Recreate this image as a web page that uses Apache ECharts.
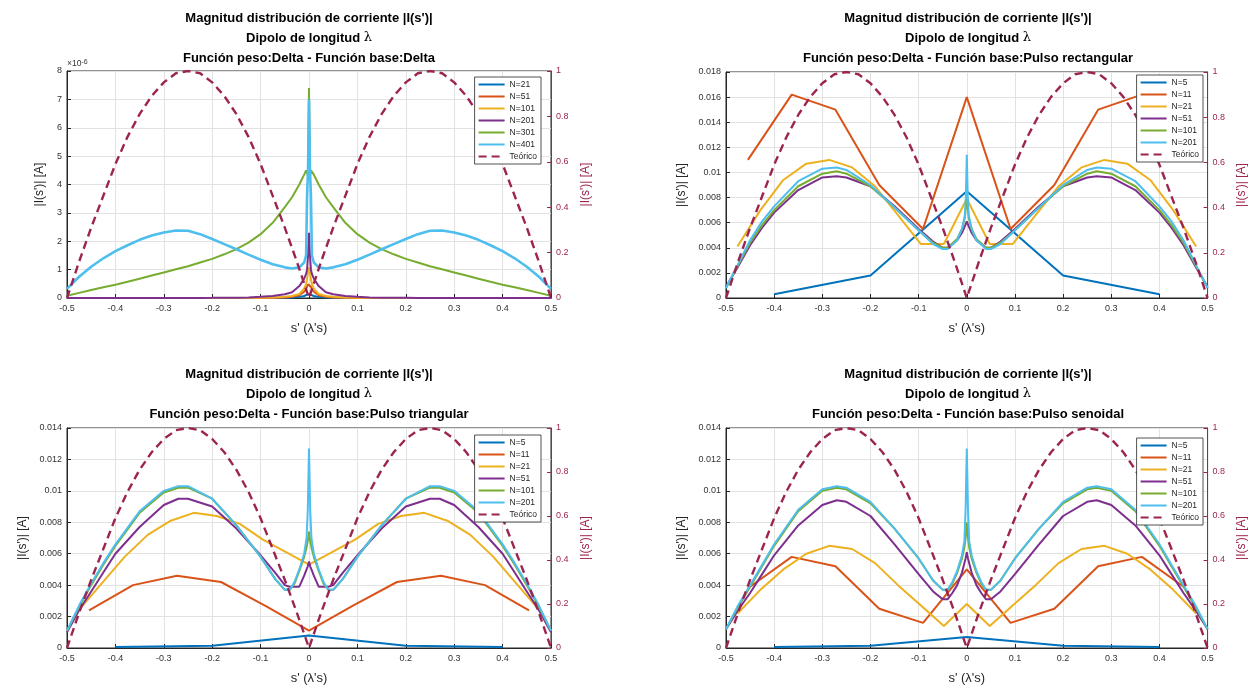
<!DOCTYPE html>
<html>
<head>
<meta charset="utf-8">
<script src="https://cdn.jsdelivr.net/npm/echarts@6/dist/echarts.min.js"></script>
<style>
  html, body { margin: 0; padding: 0; background: #fff; }
  #wrap { position: relative; width: 1256px; height: 690px; overflow: hidden; background: #fff; }
  .pane { position: absolute; width: 628px; height: 345px; }
</style>
</head>
<body>
<div id="wrap">
  <div class="pane" id="p1" style="left:0;top:0"></div>
  <div class="pane" id="p2" style="left:628px;top:0"></div>
  <div class="pane" id="p3" style="left:0;top:345px"></div>
  <div class="pane" id="p4" style="left:628px;top:345px"></div>
</div>
<script>
// ---- Theoretical distribution (right axis, normalised) ----
const sTeo = [-0.5,-0.475,-0.45,-0.425,-0.4,-0.375,-0.35,-0.325,-0.3,-0.275,-0.25,-0.225,-0.2,-0.175,-0.15,-0.125,-0.1,-0.075,-0.05,-0.025,0,
              0.025,0.05,0.075,0.1,0.125,0.15,0.175,0.2,0.225,0.25,0.275,0.3,0.325,0.35,0.375,0.4,0.425,0.45,0.475,0.5];
const iTeo = [0,0.16,0.31,0.45,0.59,0.71,0.81,0.89,0.95,0.99,1.00,0.99,0.95,0.89,0.81,0.71,0.59,0.45,0.31,0.16,0,
              0.16,0.31,0.45,0.59,0.71,0.81,0.89,0.95,0.99,1.00,0.99,0.95,0.89,0.81,0.71,0.59,0.45,0.31,0.16,0];

// ---- Delta / Delta (values in units of 1e-6 A) ----
const s1 = [-0.5,-0.475,-0.45,-0.425,-0.4,-0.375,-0.35,-0.325,-0.3,-0.275,-0.25,-0.225,-0.2,-0.175,-0.15,-0.125,-0.1,-0.075,-0.05,-0.035,-0.02,-0.01,-0.006,-0.004,-0.002,0,
            0.002,0.004,0.006,0.01,0.02,0.035,0.05,0.075,0.1,0.125,0.15,0.175,0.2,0.225,0.25,0.275,0.3,0.325,0.35,0.375,0.4,0.425,0.45,0.475,0.5];
const dd21  = [0,0,0,0,0,0,0,0,0,0,0,0,0,0,0,0,0,0,0.01,0.02,0.04,0.07,0.1,0.12,0.13,0.15,
               0.13,0.12,0.1,0.07,0.04,0.02,0.01,0,0,0,0,0,0,0,0,0,0,0,0,0,0,0,0,0,0];
const dd51  = [0,0,0,0,0,0,0,0,0,0,0,0,0,0,0,0,0,0.01,0.02,0.04,0.1,0.22,0.32,0.4,0.48,0.55,
               0.48,0.4,0.32,0.22,0.1,0.04,0.02,0.01,0,0,0,0,0,0,0,0,0,0,0,0,0,0,0,0,0];
const dd101 = [0,0,0,0,0,0,0,0,0,0,0,0,0,0,0,0,0.01,0.02,0.04,0.07,0.14,0.33,0.5,0.65,0.9,1.08,
               0.9,0.65,0.5,0.33,0.14,0.07,0.04,0.02,0.01,0,0,0,0,0,0,0,0,0,0,0,0,0,0,0,0];
const dd201 = [0,0,0,0,0,0,0,0,0,0,0.002,0.003,0.005,0.008,0.012,0.02,0.04,0.07,0.13,0.2,0.42,0.68,0.85,1.0,1.5,2.3,
               1.5,1.0,0.85,0.68,0.42,0.2,0.13,0.07,0.04,0.02,0.012,0.008,0.005,0.003,0.002,0,0,0,0,0,0,0,0,0,0];
const dd301 = [0.08,0.18,0.28,0.38,0.47,0.57,0.68,0.79,0.9,1.01,1.12,1.25,1.38,1.54,1.72,1.95,2.25,2.65,3.2,3.55,4.0,4.35,4.5,4.5,4.3,7.4,
               4.3,4.5,4.5,4.35,4.0,3.55,3.2,2.65,2.25,1.95,1.72,1.54,1.38,1.25,1.12,1.01,0.9,0.79,0.68,0.57,0.47,0.38,0.28,0.18,0.08];
const dd401 = [0.32,0.75,1.1,1.4,1.65,1.86,2.05,2.2,2.31,2.38,2.37,2.25,2.08,1.9,1.72,1.53,1.35,1.19,1.08,1.04,1.08,1.25,1.5,3.6,4.5,7.0,
               4.5,3.6,1.5,1.25,1.08,1.04,1.08,1.19,1.35,1.53,1.72,1.9,2.08,2.25,2.37,2.38,2.31,2.2,2.05,1.86,1.65,1.4,1.1,0.75,0.32];

// ---- Delta / rectangular pulse (A) ----
const sN5  = [-0.4,-0.2,0,0.2,0.4];
const sN11 = [-0.4545,-0.3636,-0.2727,-0.1818,-0.0909,0,0.0909,0.1818,0.2727,0.3636,0.4545];
const sN21 = [-0.4762,-0.4286,-0.381,-0.3333,-0.2857,-0.2381,-0.1905,-0.1429,-0.0952,-0.0476,0,
              0.0476,0.0952,0.1429,0.1905,0.2381,0.2857,0.3333,0.381,0.4286,0.4762];
const rp5  = [0.0003,0.0018,0.0085,0.0018,0.0003];
const rp11 = [0.0110,0.0162,0.0150,0.0090,0.0055,0.0160,0.0055,0.0090,0.0150,0.0162,0.0110];
const rp21 = [0.0041,0.0070,0.0094,0.0107,0.0110,0.0104,0.0089,0.0066,0.0043,0.0043,0.0079,
              0.0043,0.0043,0.0066,0.0089,0.0104,0.0110,0.0107,0.0094,0.0070,0.0041];
const s2 = [-0.5,-0.475,-0.45,-0.425,-0.4,-0.35,-0.3,-0.27,-0.25,-0.2,-0.15,-0.1,-0.07,-0.05,-0.04,-0.02,-0.01,-0.004,-0.002,0,
            0.002,0.004,0.01,0.02,0.04,0.05,0.07,0.1,0.15,0.2,0.25,0.27,0.3,0.35,0.4,0.425,0.45,0.475,0.5];
const rp51  = [0.0009,0.0025,0.0042,0.0056,0.0068,0.0086,0.0096,0.0097,0.0096,0.0089,0.0073,0.0055,0.0045,0.0040,0.0040,0.0046,0.0052,0.0057,0.0059,0.0061,
               0.0059,0.0057,0.0052,0.0046,0.0040,0.0040,0.0045,0.0055,0.0073,0.0089,0.0096,0.0097,0.0096,0.0086,0.0068,0.0056,0.0042,0.0025,0.0009];
const rp101 = [0.0008,0.0026,0.0044,0.0058,0.0070,0.0089,0.0099,0.0101,0.0099,0.0089,0.0072,0.0054,0.0044,0.0040,0.0040,0.0047,0.0055,0.0064,0.0072,0.0088,
               0.0072,0.0064,0.0055,0.0047,0.0040,0.0040,0.0044,0.0054,0.0072,0.0089,0.0099,0.0101,0.0099,0.0089,0.0070,0.0058,0.0044,0.0026,0.0008];
const rp201 = [0.0008,0.0027,0.0046,0.0061,0.0073,0.0093,0.0103,0.0104,0.0102,0.0090,0.0072,0.0054,0.0043,0.0039,0.0039,0.0046,0.0055,0.0066,0.0080,0.0114,
               0.0080,0.0066,0.0055,0.0046,0.0039,0.0039,0.0043,0.0054,0.0072,0.0090,0.0102,0.0104,0.0103,0.0093,0.0073,0.0061,0.0046,0.0027,0.0008];

// ---- Delta / triangular pulse (A) ----
const tp5  = [0.00006,0.00015,0.00079,0.00015,0.00006];
const tp11 = [0.0024,0.0040,0.0046,0.0042,0.0027,0.0011,0.0027,0.0042,0.0046,0.0040,0.0024];
const tp21 = [0.0024,0.0041,0.0058,0.0072,0.0081,0.0086,0.0084,0.0079,0.0069,0.0061,0.0053,
              0.0061,0.0069,0.0079,0.0084,0.0086,0.0081,0.0072,0.0058,0.0041,0.0024];
const s3 = [-0.5,-0.475,-0.45,-0.425,-0.4,-0.35,-0.3,-0.27,-0.25,-0.2,-0.15,-0.1,-0.07,-0.05,-0.04,-0.03,-0.02,-0.01,-0.005,-0.0025,0,
            0.0025,0.005,0.01,0.02,0.03,0.04,0.05,0.07,0.1,0.15,0.2,0.25,0.27,0.3,0.35,0.4,0.425,0.45,0.475,0.5];
const tp51  = [0.0010,0.0024,0.0036,0.0048,0.0060,0.0077,0.0091,0.0095,0.0095,0.0090,0.0076,0.0059,0.0048,0.0040,0.0039,0.0039,0.0039,0.0046,0.0050,0.0052,0.0055,
               0.0052,0.0050,0.0046,0.0039,0.0039,0.0039,0.0040,0.0048,0.0059,0.0076,0.0090,0.0095,0.0095,0.0091,0.0077,0.0060,0.0048,0.0036,0.0024,0.0010];
const tp101 = [0.0011,0.0026,0.0040,0.0053,0.0065,0.0086,0.0099,0.0102,0.0102,0.0095,0.0078,0.0058,0.0044,0.0037,0.0037,0.0041,0.0049,0.0058,0.0064,0.0068,0.0074,
               0.0068,0.0064,0.0058,0.0049,0.0041,0.0037,0.0037,0.0044,0.0058,0.0078,0.0095,0.0102,0.0102,0.0099,0.0086,0.0065,0.0053,0.0040,0.0026,0.0011];
const tp201 = [0.0011,0.0027,0.0041,0.0054,0.0066,0.0087,0.0100,0.0103,0.0103,0.0095,0.0078,0.0058,0.0044,0.0037,0.0037,0.0042,0.0050,0.0060,0.0070,0.0088,0.0127,
               0.0088,0.0070,0.0060,0.0050,0.0042,0.0037,0.0037,0.0044,0.0058,0.0078,0.0095,0.0103,0.0103,0.0100,0.0087,0.0066,0.0054,0.0041,0.0027,0.0011];

// ---- Delta / sinusoidal pulse (A) ----
const sp5  = [0.00006,0.00014,0.0007,0.00014,0.00006];
const sp11 = [0.0038,0.0058,0.0052,0.0025,0.0016,0.0050,0.0016,0.0025,0.0052,0.0058,0.0038];
const sp21 = [0.0022,0.0037,0.0050,0.0060,0.0065,0.0063,0.0054,0.0040,0.0027,0.0014,0.0028,
              0.0014,0.0027,0.0040,0.0054,0.0063,0.0065,0.0060,0.0050,0.0037,0.0022];
const sp51  = [0.0012,0.0024,0.0035,0.0047,0.0059,0.0078,0.0091,0.0094,0.0093,0.0084,0.0066,0.0047,0.0036,0.0031,0.0031,0.0035,0.0040,0.0048,0.0054,0.0057,0.0061,
               0.0057,0.0054,0.0048,0.0040,0.0035,0.0031,0.0031,0.0036,0.0047,0.0066,0.0084,0.0093,0.0094,0.0091,0.0078,0.0059,0.0047,0.0035,0.0024,0.0012];
const sp101 = [0.0012,0.0026,0.0039,0.0052,0.0065,0.0087,0.0100,0.0102,0.0101,0.0092,0.0076,0.0057,0.0043,0.0037,0.0037,0.0041,0.0048,0.0057,0.0064,0.0070,0.0080,
               0.0070,0.0064,0.0057,0.0048,0.0041,0.0037,0.0037,0.0043,0.0057,0.0076,0.0092,0.0101,0.0102,0.0100,0.0087,0.0065,0.0052,0.0039,0.0026,0.0012];
const sp201 = [0.0012,0.0027,0.0040,0.0053,0.0066,0.0088,0.0101,0.0103,0.0102,0.0093,0.0076,0.0057,0.0043,0.0037,0.0037,0.0042,0.0049,0.0059,0.0068,0.0088,0.0127,
               0.0088,0.0068,0.0059,0.0049,0.0042,0.0037,0.0037,0.0043,0.0057,0.0076,0.0093,0.0102,0.0103,0.0101,0.0088,0.0066,0.0053,0.0040,0.0027,0.0012];

// ---- Styling ----
const FONT = "'Liberation Sans', Arial, Helvetica, sans-serif";
const COLORS = ['#0072BD', '#D95319', '#EDB120', '#7E2F8E', '#77AC30', '#4DBEEE'];
const TEO = '#9c2450';
const AXIS = '#262626';
const GRIDLINE = '#e2e2e2';
const PLOT_W = 484;

function pairs(s, v) { return s.map((x, i) => [x, v[i]]); }

function build(id, p) {
  const chart = echarts.init(document.getElementById(id), null, { renderer: 'canvas' });
  const cx = p.gridLeft + PLOT_W / 2;

  const series = p.curves.map((c, k) => ({
    name: c.name, type: 'line', xAxisIndex: 0, yAxisIndex: 0,
    data: pairs(c.s, c.v), symbol: 'none', silent: true,
    lineStyle: { color: COLORS[k], width: c.w || 2 },
    itemStyle: { color: COLORS[k] }
  }));
  series.push({
    name: 'Teórico', type: 'line', xAxisIndex: 0, yAxisIndex: 1,
    data: pairs(sTeo, iTeo), symbol: 'none', silent: true,
    lineStyle: { color: TEO, width: 2.4, type: [8, 5] },
    itemStyle: { color: TEO }
  });

  const graphic = [{
    type: 'text', x: cx, y: p.titleTop, silent: true,
    style: {
      text: "{b|Magnitud distribución de corriente |I(s')|}\n{b|Dipolo de longitud }{l|λ}\n{b|Función peso:Delta - Función base:" + p.base + "}",
      textAlign: 'center', textVerticalAlign: 'top',
      rich: {
        b: { fontFamily: FONT, fontWeight: 'bold', fontSize: 13, lineHeight: 20, fill: '#000' },
        l: { fontFamily: "'DejaVu Serif', serif", fontSize: 13, lineHeight: 20, fill: '#000' }
      }
    }
  }];
  if (p.exponent) {
    graphic.push({
      type: 'text', x: p.gridLeft, y: p.gridTop - 12, silent: true,
      style: {
        text: '×10{s|-6}',
        rich: {
          s: { fontFamily: FONT, fontSize: 7, fill: '#333', verticalAlign: 'top', lineHeight: 9 }
        },
        fontFamily: FONT, fontSize: 8.5, fill: '#333'
      }
    });
  }

  chart.setOption({
    animation: false,
    backgroundColor: '#fff',
    textStyle: { fontFamily: FONT },
    grid: {
      left: p.gridLeft, top: p.gridTop, width: PLOT_W, height: p.gridH,
      show: true, borderColor: AXIS, borderWidth: 1, backgroundColor: '#fff'
    },
    xAxis: {
      type: 'value', min: -0.5, max: 0.5, interval: 0.1,
      name: "s' (λ's)", nameLocation: 'middle', nameGap: 24,
      nameTextStyle: { fontSize: 13, color: AXIS, fontFamily: FONT },
      axisLine: { show: true, onZero: false, lineStyle: { color: AXIS, width: 1 } },
      axisTick: { show: true, inside: true, length: 4, lineStyle: { color: AXIS } },
      axisLabel: { fontSize: 9, color: '#333', margin: 6 },
      splitLine: { show: true, lineStyle: { color: GRIDLINE, width: 1 } }
    },
    yAxis: [{
      type: 'value', position: 'left', min: 0, max: p.yMax, interval: p.yStep,
      name: "|I(s')| [A]", nameLocation: 'middle', nameGap: p.yNameGap, nameRotate: 90,
      nameTextStyle: { fontSize: 12, color: AXIS, fontFamily: FONT },
      axisLine: { show: true, onZero: false, lineStyle: { color: AXIS, width: 1 } },
      axisTick: { show: true, inside: true, length: 4, lineStyle: { color: AXIS } },
      axisLabel: { fontSize: 9, color: '#333', margin: 5 },
      splitLine: { show: true, lineStyle: { color: GRIDLINE, width: 1 } }
    }, {
      type: 'value', position: 'right', min: 0, max: 1, interval: 0.2,
      name: "|I(s')| [A]", nameLocation: 'middle', nameGap: 24, nameRotate: 90,
      nameTextStyle: { fontSize: 12, color: TEO, fontFamily: FONT },
      axisLine: { show: true, onZero: false, lineStyle: { color: TEO, width: 1 } },
      axisTick: { show: true, inside: true, length: 4, lineStyle: { color: TEO } },
      axisLabel: { fontSize: 9, color: TEO, margin: 5 },
      splitLine: { show: false }
    }],
    legend: {
      orient: 'vertical', right: p.legendRight, top: p.legendTop,
      data: p.curves.map(c => c.name).concat(['Teórico']),
      backgroundColor: '#fff', borderColor: AXIS, borderWidth: 0.8, borderRadius: 0,
      padding: [3, 4, 3, 3], itemGap: 3, itemWidth: 26, itemHeight: 10,
      selectedMode: false,
      itemStyle: { opacity: 0 },
      textStyle: { fontSize: 8.5, color: AXIS, fontFamily: FONT }
    },
    graphic: graphic,
    series: series
  });
}

build('p1', {
  base: 'Delta', titleTop: 8, gridLeft: 67, gridTop: 71, gridH: 227,
  yMax: 8, yStep: 1, yNameGap: 20, exponent: true, legendRight: 87, legendTop: 77,
  curves: [
    { name: 'N=21', s: s1, v: dd21 }, { name: 'N=51', s: s1, v: dd51 },
    { name: 'N=101', s: s1, v: dd101 }, { name: 'N=201', s: s1, v: dd201 },
    { name: 'N=301', s: s1, v: dd301 }, { name: 'N=401', s: s1, v: dd401, w: 2.6 }
  ]
});
build('p2', {
  base: 'Pulso rectangular', titleTop: 8, gridLeft: 98, gridTop: 72, gridH: 226,
  yMax: 0.018, yStep: 0.002, yNameGap: 36, legendRight: 53, legendTop: 75,
  curves: [
    { name: 'N=5', s: sN5, v: rp5 }, { name: 'N=11', s: sN11, v: rp11 },
    { name: 'N=21', s: sN21, v: rp21 }, { name: 'N=51', s: s2, v: rp51 },
    { name: 'N=101', s: s2, v: rp101 }, { name: 'N=201', s: s2, v: rp201 }
  ]
});
build('p3', {
  base: 'Pulso triangular', titleTop: 19, gridLeft: 67, gridTop: 83, gridH: 226,
  yMax: 0.014, yStep: 0.002, yNameGap: 36, legendRight: 87, legendTop: 90,
  curves: [
    { name: 'N=5', s: sN5, v: tp5 }, { name: 'N=11', s: sN11, v: tp11 },
    { name: 'N=21', s: sN21, v: tp21 }, { name: 'N=51', s: s3, v: tp51 },
    { name: 'N=101', s: s3, v: tp101 }, { name: 'N=201', s: s3, v: tp201 }
  ]
});
build('p4', {
  base: 'Pulso senoidal', titleTop: 19, gridLeft: 98, gridTop: 83, gridH: 226,
  yMax: 0.014, yStep: 0.002, yNameGap: 36, legendRight: 53, legendTop: 93,
  curves: [
    { name: 'N=5', s: sN5, v: sp5 }, { name: 'N=11', s: sN11, v: sp11 },
    { name: 'N=21', s: sN21, v: sp21 }, { name: 'N=51', s: s3, v: sp51 },
    { name: 'N=101', s: s3, v: sp101 }, { name: 'N=201', s: s3, v: sp201 }
  ]
});
</script>
</body>
</html>
